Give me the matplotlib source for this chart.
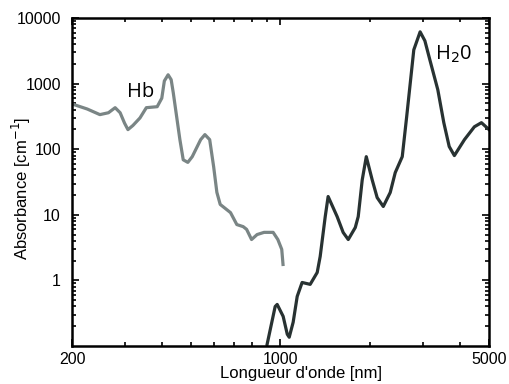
import matplotlib
matplotlib.use("Agg")
import matplotlib.pyplot as plt
from matplotlib.ticker import FixedLocator, NullFormatter

plt.rcParams['font.family'] = ['Liberation Sans', 'DejaVu Sans']

# Hb absorption (gray curve)
hb_nm = [200, 225, 248, 265, 279, 290, 300, 308, 320, 338, 355, 386, 400, 408,
         420, 430, 437, 460, 472, 489, 506, 540, 558, 579, 597, 612, 628, 680,
         714, 750, 770, 800, 835, 881, 945, 980, 1010, 1020]
hb_abs = [490, 410, 337, 360, 430, 360, 250, 199, 230, 300, 430, 445, 600,
          1100, 1365, 1150, 730, 140, 69, 63, 77, 140, 167, 140, 54, 22, 14.4,
          10.8, 7.1, 6.6, 6.0, 4.2, 5.0, 5.4, 5.4, 4.2, 2.97, 1.75]

# H2O absorption (dark curve)
h2o_nm = [902, 960, 975, 1021, 1054, 1070, 1103, 1138, 1182, 1258, 1328, 1359,
          1413, 1445, 1549, 1623, 1688, 1782, 1823, 1880, 1940, 2031, 2110,
          2212, 2334, 2426, 2561, 2650, 2725, 2800, 2940, 3050, 3170, 3370,
          3530, 3680, 3830, 4140, 4470, 4720, 5000]
h2o_abs = [0.106, 0.40, 0.43, 0.283, 0.151, 0.136, 0.23, 0.57, 0.93, 0.87,
           1.32, 2.32, 9.4, 19, 9.4, 5.38, 4.2, 6.4, 9.4, 34, 77, 34, 18.3,
           13.4, 21.9, 44, 77, 313, 1030, 3280, 6160, 4500, 2300, 808, 254,
           110, 80, 140, 220, 254, 200]

x_major = [200, 1000, 5000]
x_minor = [300, 400, 500, 600, 700, 800, 900, 2000, 3000, 4000]
y_major = [1, 10, 100, 1000, 10000]
y_labels = ['1', '10', '100', '1000', '10000']

fig = plt.figure(figsize=(5.09, 3.84), dpi=100)
ax = fig.add_axes([0.1415, 0.099, 0.819, 0.854])

ax.plot(hb_nm, hb_abs, color='#7a8585', lw=2.3, solid_joinstyle='round')
ax.plot(h2o_nm, h2o_abs, color='#283232', lw=2.3, solid_joinstyle='round')

ax.set_xscale('log')
ax.set_yscale('log')
ax.set_xlim(200, 5000)
ax.set_ylim(0.1, 10000)

ax.xaxis.set_major_locator(FixedLocator(x_major))
ax.xaxis.set_minor_locator(FixedLocator(x_minor))
ax.set_xticklabels([str(v) for v in x_major])
ax.xaxis.set_minor_formatter(NullFormatter())
ax.yaxis.set_major_locator(FixedLocator(y_major))
ax.set_yticklabels(y_labels)
ax.yaxis.set_minor_formatter(NullFormatter())

ax.tick_params(which='both', direction='in', top=True, right=True,
               labelsize=11.5, width=1.2)
ax.tick_params(which='major', length=5)
ax.tick_params(axis='x', which='major', pad=4)
ax.tick_params(axis='y', which='major', pad=8)
ax.tick_params(which='minor', length=3)
for s in ax.spines.values():
    s.set_linewidth(1.8)

ax.set_xlabel("Longueur d'onde [nm]", fontsize=12)
ax.set_ylabel("Absorbance [cm$^{-1}$]", fontsize=12)
ax.xaxis.set_label_coords(0.55, -0.06)
ax.yaxis.set_label_coords(-0.094, 0.48)

ax.text(0.165, 0.775, "Hb", transform=ax.transAxes, fontsize=14.5,
        family='Open Sans', ha='center', va='center')
ax.text(0.916, 0.89, "H$_2$0", transform=ax.transAxes, fontsize=14.5,
        family='Open Sans', ha='center', va='center')

fig.savefig("out.png", dpi=100)
